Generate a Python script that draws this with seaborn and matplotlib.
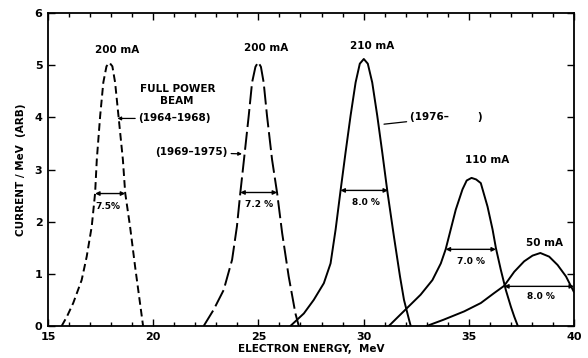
import numpy as np
import pandas as pd
import matplotlib
matplotlib.use('Agg')
import matplotlib.pyplot as plt
import seaborn as sns

# Beam energy spectra
e_6468 = [15.65, 15.9, 16.2, 16.6, 16.84, 17.08, 17.24, 17.32, 17.48, 17.63, 17.78, 17.92,
          18.06, 18.19, 18.35, 18.56, 18.67, 18.9, 19.14, 19.46, 19.52]
i_6468 = [0.0, 0.18, 0.44, 0.88, 1.33, 1.91, 2.55, 3.19, 4.03, 4.67, 4.98, 5.05,
          4.98, 4.67, 4.03, 3.19, 2.55, 1.91, 1.14, 0.18, 0.0]

e_6975 = [22.4, 22.87, 23.35, 23.75, 23.98, 24.14, 24.35, 24.54, 24.7, 24.86, 24.99, 25.12,
          25.25, 25.41, 25.65, 25.89, 26.13, 26.44, 26.76, 26.92]
i_6975 = [0.0, 0.31, 0.69, 1.27, 1.91, 2.55, 3.32, 4.03, 4.67, 4.97, 5.06, 4.97,
          4.67, 4.03, 3.19, 2.55, 1.78, 0.95, 0.24, 0.0]

e_1976 = [26.52, 27.16, 27.63, 28.11, 28.43, 28.67, 28.9, 29.14, 29.38, 29.62, 29.82, 30.01,
          30.2, 30.41, 30.65, 30.89, 31.13, 31.44, 31.73, 31.92, 32.16, 32.24]
i_1976 = [0.0, 0.24, 0.5, 0.82, 1.2, 1.85, 2.58, 3.32, 4.03, 4.67, 5.03, 5.12,
          5.03, 4.67, 4.03, 3.32, 2.58, 1.72, 0.95, 0.5, 0.12, 0.0]

e_110 = [31.2, 31.5, 32.08, 32.71, 33.27, 33.67, 33.9, 34.14, 34.38, 34.7, 34.9, 35.13,
         35.35, 35.57, 35.89, 36.13, 36.29, 36.52, 36.76, 37.0, 37.16, 37.33]
i_110 = [0.0, 0.12, 0.35, 0.6, 0.88, 1.2, 1.47, 1.85, 2.23, 2.62, 2.79, 2.84,
         2.81, 2.74, 2.29, 1.85, 1.49, 1.08, 0.69, 0.37, 0.18, 0.0]

e_50 = [33.0, 33.8, 34.78, 35.57, 36.2, 36.68, 37.16, 37.63, 38.03, 38.4, 38.82, 39.22,
        39.62, 39.86, 40.0]
i_50 = [0.0, 0.12, 0.28, 0.44, 0.63, 0.77, 1.04, 1.24, 1.35, 1.4, 1.33, 1.17,
        0.95, 0.76, 0.65]

# FWHM bars
bar_y = [2.54, 2.56, 2.6, 1.47, 0.76]
bar_lo = [17.24, 24.14, 28.9, 33.9, 36.68]
bar_hi = [18.67, 25.89, 31.16, 36.29, 40.0]
spread = ['7.5%', '7.2 %', '8.0 %', '7.0 %', '8.0 %']
currents = ['200 mA', '200 mA', '210 mA', '110 mA', '50 mA']

sns.set_style('ticks')
plt.rcParams['font.family'] = ['DejaVu Sans']
plt.rcParams['lines.scale_dashes'] = False
plt.rcParams.update({'text.color': 'black', 'axes.labelcolor': 'black',
                     'xtick.color': 'black', 'ytick.color': 'black',
                     'axes.edgecolor': 'black'})

fig = plt.figure(figsize=(5.88, 3.58), dpi=100)
ax = fig.add_axes([0.0816, 0.0894, 0.8946, 0.874])

curves = [
    (e_6468, i_6468, (0, (5.5, 3))),
    (e_6975, i_6975, (0, (13, 3.5))),
    (e_1976, i_1976, '-'),
    (e_110, i_110, '-'),
    (e_50, i_50, '-'),
]
for e, i, ls in curves:
    df = pd.DataFrame({'energy': e, 'current': i})
    sns.lineplot(data=df, x='energy', y='current', sort=False, color='black',
                 linewidth=1.4, linestyle=ls, ax=ax)

# FWHM arrows and labels
lab_pos = [(17.87, 2.29), (25.01, 2.33), (30.1, 2.36), (35.1, 1.24), (38.43, 0.56)]
for y, lo, hi, s, (tx, ty) in zip(bar_y, bar_lo, bar_hi, spread, lab_pos):
    ax.annotate('', xy=(lo, y), xytext=(hi, y),
                arrowprops=dict(arrowstyle='<|-|>', color='black', lw=1.0,
                                mutation_scale=6, shrinkA=0, shrinkB=0))
    ax.text(tx, ty, s, ha='center', va='center', fontsize=6.5, fontweight='bold')

# peak current labels
cur_pos = [(18.29, 5.29), (25.36, 5.34), (30.41, 5.37), (35.86, 3.19), (38.59, 1.59)]
for s, (tx, ty) in zip(currents, cur_pos):
    ax.text(tx, ty, s, ha='center', va='center', fontsize=7.5, fontweight='bold')

# era annotations
ax.text(21.15, 4.55, 'FULL POWER', ha='center', va='center', fontsize=7.5, fontweight='bold')
ax.text(21.1, 4.31, 'BEAM', ha='center', va='center', fontsize=7.5, fontweight='bold')
ax.annotate('(1964–1968)', xy=(18.3, 3.98), xytext=(19.3, 3.98), ha='left', va='center',
            fontsize=7.5, fontweight='bold',
            arrowprops=dict(arrowstyle='-|>', color='black', lw=0.9,
                            mutation_scale=5, shrinkA=0, shrinkB=0))
ax.annotate('(1969–1975)', xy=(24.22, 3.3), xytext=(23.55, 3.33), ha='right', va='center',
            fontsize=7.5, fontweight='bold',
            arrowprops=dict(arrowstyle='-|>', color='black', lw=0.9,
                            mutation_scale=5, shrinkA=0, shrinkB=0))
ax.annotate('(1976–        )', xy=(30.97, 3.87), xytext=(32.2, 4.0), ha='left', va='center',
            fontsize=7.5, fontweight='bold',
            arrowprops=dict(arrowstyle='-', color='black', lw=0.9, shrinkA=0, shrinkB=0))

ax.set_xlim(15, 40)
ax.set_ylim(0, 6)
ax.set_xticks(range(15, 41, 5))
ax.set_xticks(range(15, 41), minor=True)
ax.set_yticks(range(0, 7))
ax.tick_params(which='both', direction='in', top=True, right=True, width=1.0,
               labelsize=8, pad=4)
ax.tick_params(which='major', length=5)
ax.tick_params(which='minor', length=3)
for lab in ax.get_xticklabels() + ax.get_yticklabels():
    lab.set_fontweight('bold')
for sp in ax.spines.values():
    sp.set_linewidth(1.3)
    sp.set_visible(True)

ax.set_xlabel('ELECTRON ENERGY,  MeV', fontsize=7.5, fontweight='bold', labelpad=2)
ax.set_ylabel('CURRENT / MeV  (ARB)', fontsize=7.5, fontweight='bold', labelpad=6)

plt.savefig('out.png', dpi=100)
